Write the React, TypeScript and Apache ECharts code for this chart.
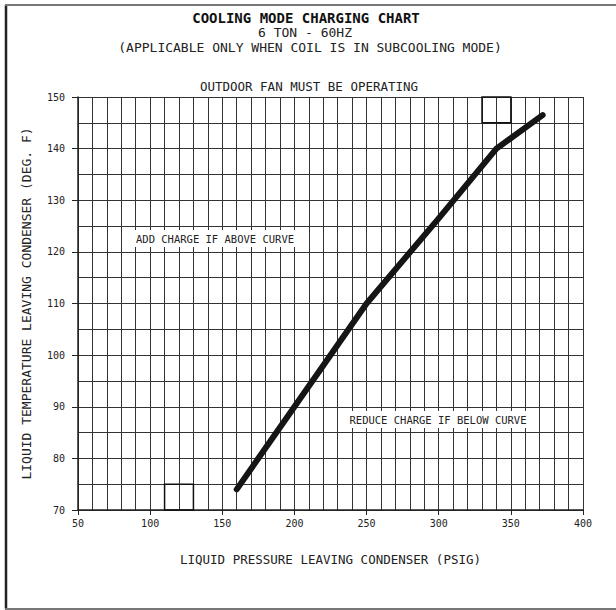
import React, { useEffect, useRef } from "react";
import * as echarts from "echarts";

const pressurePsig = [160, 200, 250, 300, 340, 372];
const liquidTempF = [74, 90, 110, 126.5, 140, 146.5];
const xTickLabels = [50, 100, 150, 200, 250, 300, 350, 400];
const yTickLabels = [70, 80, 90, 100, 110, 120, 130, 140, 150];
const highlightBoxes = [
  [110, 70, 130, 75],
  [330, 145, 350, 150],
];
const FONT = "'DejaVu Sans Mono', monospace";

export default function App() {
  const ref = useRef<HTMLDivElement>(null);
  useEffect(() => {
    if (!ref.current) return;
    const chart = echarts.init(ref.current, null, { renderer: "svg" });
    const gridLine = { show: true, lineStyle: { color: "#333", width: 1 } };
    const option: any = {
      animation: false,
      backgroundColor: "#fff",
      grid: { left: 78, right: 33, top: 97, bottom: 100, containLabel: false },
      xAxis: [
        {
          type: "value", min: 50, max: 400, interval: 10,
          axisLine: { show: true, lineStyle: { color: "#222", width: 1.5 } },
          axisTick: { show: false }, axisLabel: { show: false },
          splitLine: gridLine,
        },
        {
          type: "value", min: 50, max: 400, interval: 50, position: "bottom",
          axisLine: { show: false },
          axisTick: { show: true, length: 5, lineStyle: { color: "#222" } },
          axisLabel: { show: true, margin: 8, fontFamily: FONT, fontSize: 10, color: "#222",
            formatter: (v: number) => (xTickLabels.includes(v) ? String(v) : "") },
          splitLine: { show: false },
          name: "LIQUID PRESSURE LEAVING CONDENSER (PSIG)",
          nameLocation: "middle", nameGap: 43,
          nameTextStyle: { fontFamily: FONT, fontSize: 12.5, color: "#222" },
        },
      ],
      yAxis: [
        {
          type: "value", min: 70, max: 150, interval: 5,
          axisLine: { show: true, lineStyle: { color: "#222", width: 1.5 } },
          axisTick: { show: false }, axisLabel: { show: false },
          splitLine: gridLine,
        },
        {
          type: "value", min: 70, max: 150, interval: 10, position: "left",
          axisLine: { show: false },
          axisTick: { show: true, length: 6, lineStyle: { color: "#222" } },
          axisLabel: { show: true, margin: 13, fontFamily: FONT, fontSize: 10, color: "#222",
            formatter: (v: number) => (yTickLabels.includes(v) ? String(v) : "") },
          splitLine: { show: false },
          name: "LIQUID TEMPERATURE LEAVING CONDENSER (DEG. F)",
          nameLocation: "middle", nameGap: 45,
          nameTextStyle: { fontFamily: FONT, fontSize: 13, color: "#222" },
        },
      ],
      series: [
        {
          type: "line",
          xAxisIndex: 0, yAxisIndex: 0,
          data: pressurePsig.map((p, i) => [p, liquidTempF[i]]),
          symbol: "none",
          lineStyle: { color: "#151515", width: 6, cap: "round", join: "round" },
          markArea: {
            silent: true,
            itemStyle: { color: "rgba(0,0,0,0)", borderColor: "#111", borderWidth: 1.5 },
            data: highlightBoxes.map((b) => [{ coord: [b[0], b[1]] }, { coord: [b[2], b[3]] }]),
          },
          z: 5,
        },
      ],
      graphic: [
        { type: "line", shape: { x1: 6, y1: 5, x2: 6, y2: 609 }, style: { stroke: "#222", lineWidth: 2.5 } },
        { type: "line", shape: { x1: 5, y1: 5, x2: 616, y2: 5 }, style: { stroke: "#777", lineWidth: 2 } },
        { type: "line", shape: { x1: 5, y1: 609, x2: 616, y2: 609 }, style: { stroke: "#777", lineWidth: 2 } },
        { type: "text", x: 306, y: 18, style: { text: "COOLING MODE CHARGING CHART", font: `bold 14px ${FONT}`, fill: "#111", align: "center", verticalAlign: "middle" } },
        { type: "text", x: 305, y: 32, style: { text: "6 TON - 60HZ", font: `13px ${FONT}`, fill: "#222", align: "center", verticalAlign: "middle" } },
        { type: "text", x: 310, y: 47, style: { text: "(APPLICABLE ONLY WHEN COIL IS IN SUBCOOLING MODE)", font: `13px ${FONT}`, fill: "#222", align: "center", verticalAlign: "middle" } },
        { type: "text", x: 309, y: 86, style: { text: "OUTDOOR FAN MUST BE OPERATING", font: `12.5px ${FONT}`, fill: "#222", align: "center", verticalAlign: "middle" } },
        { type: "rect", z: 9, shape: { x: 124, y: 230, width: 183, height: 17 }, style: { fill: "#fff" } },
        { type: "text", x: 215, y: 239, z: 10, style: { text: "ADD CHARGE IF ABOVE CURVE", font: `10.5px ${FONT}`, fill: "#222", align: "center", verticalAlign: "middle" } },
        { type: "rect", z: 9, shape: { x: 344, y: 411, width: 188, height: 17 }, style: { fill: "#fff" } },
        { type: "text", x: 438, y: 420, z: 10, style: { text: "REDUCE CHARGE IF BELOW CURVE", font: `10.5px ${FONT}`, fill: "#222", align: "center", verticalAlign: "middle" } },
      ],
    };
    chart.setOption(option);
    return () => chart.dispose();
  }, []);
  return (
    <div
      ref={ref}
      style={{ position: "fixed", left: 0, top: 0, width: 616, height: 610, background: "#fff" }}
    />
  );
}
